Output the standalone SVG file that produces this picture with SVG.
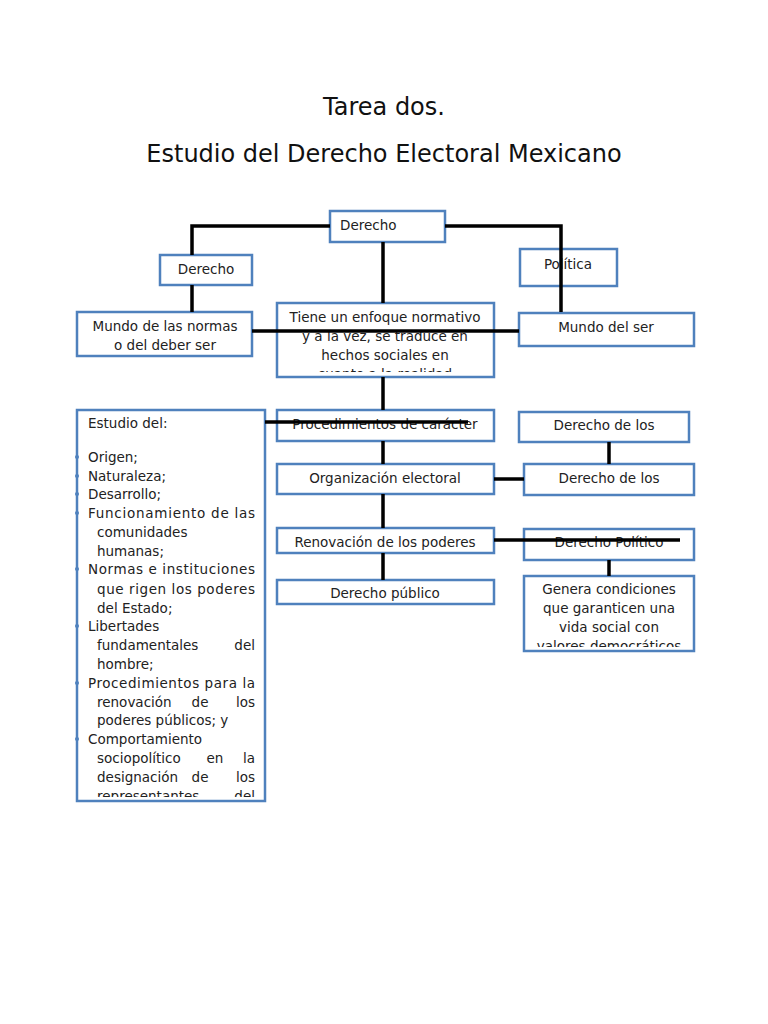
<svg xmlns="http://www.w3.org/2000/svg" width="768" height="1024" viewBox="0 0 768 1024">
<style>
.b{fill:#fff;stroke:#4f81bd;stroke-width:2.5}
.t{font-family:"DejaVu Sans",sans-serif;font-size:13.5px;fill:#222;text-anchor:middle}
.l{font-family:"DejaVu Sans",sans-serif;font-size:13.5px;fill:#222}
.h{font-family:"DejaVu Sans",sans-serif;font-size:24px;fill:#111;text-anchor:middle}
.c{stroke:#000;stroke-width:3.5;fill:none}
</style>
<defs>
<clipPath id="c1"><rect x="331" y="212" width="113" height="22"/></clipPath>
<clipPath id="c2"><rect x="278" y="304" width="215" height="68"/></clipPath>
<clipPath id="c3"><rect x="78" y="411" width="186" height="386"/></clipPath>
<clipPath id="c4"><rect x="278" y="411" width="215" height="23"/></clipPath>
<clipPath id="c5"><rect x="278" y="529" width="215" height="22"/></clipPath>
<clipPath id="c6"><rect x="278" y="581" width="215" height="21"/></clipPath>
<clipPath id="c7"><rect x="525" y="577" width="168" height="70"/></clipPath>
</defs>
<rect width="768" height="1024" fill="#fff"/>
<text class="h" x="384" y="115">Tarea dos.</text>
<text class="h" x="384" y="162">Estudio del Derecho Electoral Mexicano</text>

<g id="n1"><rect class="b" x="330" y="211" width="115" height="31"/><text class="l" x="340" y="230" clip-path="url(#c1)">Derecho</text></g>
<g id="n2"><rect class="b" x="160" y="255" width="92" height="30"/><text class="t" x="206" y="274">Derecho</text></g>
<g id="n3"><rect class="b" x="520" y="249" width="97" height="37"/><text class="t" x="568" y="269">Política</text></g>
<g id="n4"><rect class="b" x="77" y="312" width="175" height="44"/><text class="t" x="165" y="331">Mundo de las normas</text><text class="t" x="165" y="350">o del deber ser</text></g>
<g id="n5"><rect class="b" x="277" y="303" width="217" height="74"/><g clip-path="url(#c2)"><text class="t" x="385" y="322">Tiene un enfoque normativo</text><text class="t" x="385" y="341">y a la vez, se traduce en</text><text class="t" x="385" y="360">hechos sociales en</text><text class="t" x="385" y="379">cuanto a la realidad</text></g></g>
<g id="n6"><rect class="b" x="519" y="313" width="175" height="33"/><text class="t" x="606" y="332">Mundo del ser</text></g>
<g id="n7"><rect class="b" x="77" y="410" width="188" height="391"/>
<g clip-path="url(#c3)">
<text class="l" x="88" y="428">Estudio del:</text>
<text class="l" x="88" y="462">Origen;</text>
<text class="l" x="88" y="481">Naturaleza;</text>
<text class="l" x="88" y="499">Desarrollo;</text>
<text class="l" x="88" y="518" textLength="167" lengthAdjust="spacing">Funcionamiento de las</text>
<text class="l" x="97" y="537">comunidades</text>
<text class="l" x="97" y="556">humanas;</text>
<text class="l" x="88" y="574" textLength="167" lengthAdjust="spacing">Normas e instituciones</text>
<text class="l" x="97" y="594" textLength="158" lengthAdjust="spacing">que rigen los poderes</text>
<text class="l" x="97" y="613">del Estado;</text>
<text class="l" x="88" y="631">Libertades</text>
<text class="l" x="97" y="650">fundamentales</text><text class="l" x="255" y="650" text-anchor="end">del</text>
<text class="l" x="97" y="669">hombre;</text>
<text class="l" x="88" y="688" textLength="167" lengthAdjust="spacing">Procedimientos para la</text>
<text class="l" x="97" y="707">renovación</text><text class="l" x="200" y="707" text-anchor="middle">de</text><text class="l" x="255" y="707" text-anchor="end">los</text>
<text class="l" x="97" y="725">poderes públicos; y</text>
<text class="l" x="88" y="744">Comportamiento</text>
<text class="l" x="97" y="763">sociopolítico</text><text class="l" x="215" y="763" text-anchor="middle">en</text><text class="l" x="255" y="763" text-anchor="end">la</text>
<text class="l" x="97" y="782">designación</text><text class="l" x="200" y="782" text-anchor="middle">de</text><text class="l" x="255" y="782" text-anchor="end">los</text>
<text class="l" x="97" y="801">representantes</text><text class="l" x="255" y="801" text-anchor="end">del</text>
</g>
<g fill="#4f81bd"><circle cx="77" cy="457" r="2"/><circle cx="77" cy="476" r="2"/><circle cx="77" cy="494" r="2"/><circle cx="77" cy="513" r="2"/><circle cx="77" cy="569" r="2"/><circle cx="77" cy="626" r="2"/><circle cx="77" cy="683" r="2"/><circle cx="77" cy="739" r="2"/></g>
</g>
<g id="n8"><rect class="b" x="277" y="410" width="217" height="31"/><text class="t" x="385" y="429" clip-path="url(#c4)">Procedimientos de carácter</text></g>
<g id="n9"><rect class="b" x="519" y="412" width="170" height="30"/><text class="t" x="604" y="430">Derecho de los</text></g>
<g id="n10"><rect class="b" x="277" y="464" width="217" height="30"/><text class="t" x="385" y="483">Organización electoral</text></g>
<g id="n11"><rect class="b" x="524" y="464" width="170" height="31"/><text class="t" x="609" y="483">Derecho de los</text></g>
<g id="n12"><rect class="b" x="277" y="528" width="217" height="25"/><text class="t" x="385" y="547" clip-path="url(#c5)">Renovación de los poderes</text></g>
<g id="n13"><rect class="b" x="524" y="529" width="170" height="31"/><text class="t" x="609" y="547">Derecho Político</text></g>
<g id="n14"><rect class="b" x="277" y="580" width="217" height="24"/><text class="t" x="385" y="598" clip-path="url(#c6)">Derecho público</text></g>
<g id="n15"><rect class="b" x="524" y="576" width="170" height="75"/><g clip-path="url(#c7)"><text class="t" x="609" y="594">Genera condiciones</text><text class="t" x="609" y="613">que garanticen una</text><text class="t" x="609" y="632">vida social con</text><text class="t" x="609" y="651">valores democráticos</text></g></g>

<g id="connectors" class="c">
<path d="M192 255V226H330M445 226H561V312"/>
<path d="M192 285V312"/>
<path d="M383 242V303"/>
<path d="M252 331H519"/>
<path d="M383 377V410"/>
<path d="M265 422H468"/>
<path d="M383 441V464M383 494V528M383 553V580"/>
<path d="M494 479H524"/>
<path d="M609 442V464"/>
<path d="M494 540H680"/>
<path d="M609 560V576"/>
</g>
</svg>
